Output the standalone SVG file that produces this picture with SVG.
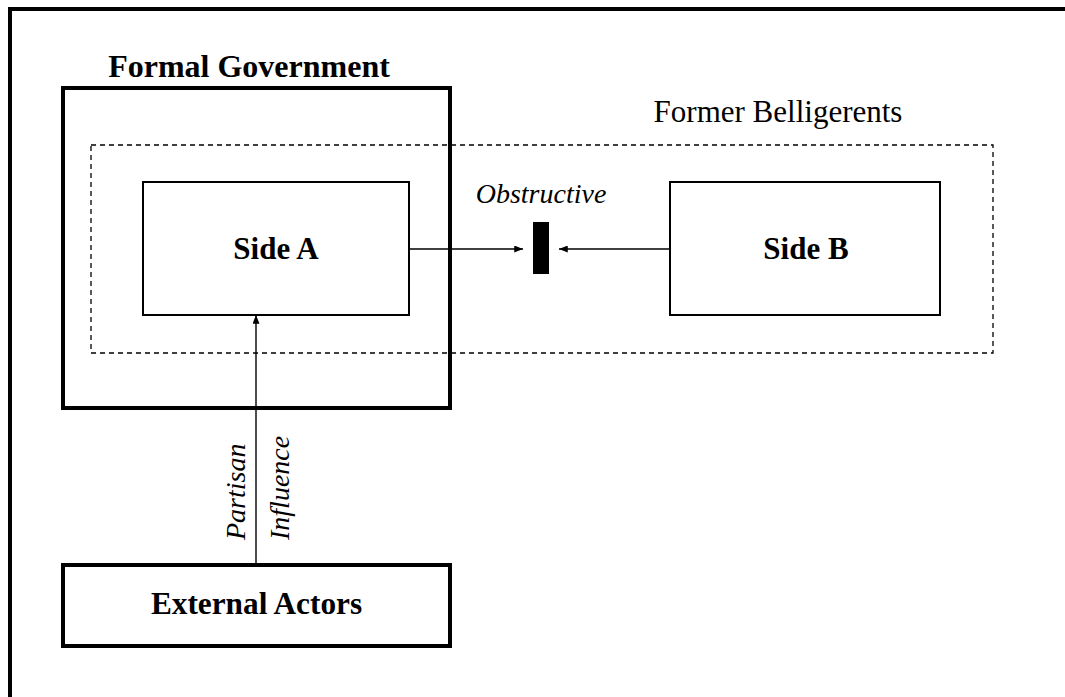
<svg xmlns="http://www.w3.org/2000/svg" width="1065" height="697" viewBox="0 0 1065 697">
<style>
.thick{fill:none;stroke:#000;stroke-width:4}
.thin{fill:none;stroke:#000;stroke-width:2}
.dash{fill:none;stroke:#000;stroke-width:1.3;stroke-dasharray:5 4}
.conn{fill:none;stroke:#000;stroke-width:1.4}
.b{font-family:"Liberation Serif","Times New Roman",serif;font-weight:bold;font-size:31px;text-anchor:middle;fill:#000}
.r{font-family:"Liberation Serif","Times New Roman",serif;font-size:31px;text-anchor:middle;fill:#000}
.i{font-family:"Liberation Serif","Times New Roman",serif;font-style:italic;font-size:28px;fill:#000}
</style>
<defs>
<marker id="ah" viewBox="0 0 10 8" refX="10" refY="4" markerWidth="10" markerHeight="7" markerUnits="userSpaceOnUse" orient="auto">
<path d="M0,0 L10,4 L0,8 Z" fill="#000"/>
</marker>
</defs>
<rect width="1065" height="697" fill="#fff"/>
<g id="frame"><rect class="thick" x="10" y="9" width="1100" height="750"/></g>
<g id="formal-government">
<rect class="thick" x="63" y="88" width="387" height="320"/>
<text class="b" x="249" y="77" style="font-size:32px">Formal Government</text>
</g>
<g id="former-belligerents">
<rect class="dash" x="91" y="145" width="902" height="208"/>
<text class="r" x="778" y="122">Former Belligerents</text>
</g>
<g id="side-a">
<rect class="thin" x="143" y="182" width="266" height="133"/>
<text class="b" x="276" y="259">Side A</text>
</g>
<g id="side-b">
<rect class="thin" x="670" y="182" width="270" height="133"/>
<text class="b" x="806" y="259">Side B</text>
</g>
<g id="obstruction">
<rect x="533" y="222" width="16" height="52" fill="#000"/>
<text class="i" x="541" y="203" text-anchor="middle">Obstructive</text>
</g>
<g id="external-actors">
<rect class="thick" x="63" y="565" width="387" height="81"/>
<text class="b" x="256.5" y="614" style="font-size:31.3px">External Actors</text>
</g>
<g id="connectors">
<line class="conn" x1="409" y1="249" x2="523" y2="249" marker-end="url(#ah)"/>
<line class="conn" x1="670" y1="249" x2="559" y2="249" marker-end="url(#ah)"/>
<line class="conn" x1="256" y1="565" x2="256" y2="315" marker-end="url(#ah)"/>
<text class="i" transform="translate(245,540) rotate(-90)">Partisan</text>
<text class="i" transform="translate(289,540) rotate(-90)">Influence</text>
</g>
</svg>
